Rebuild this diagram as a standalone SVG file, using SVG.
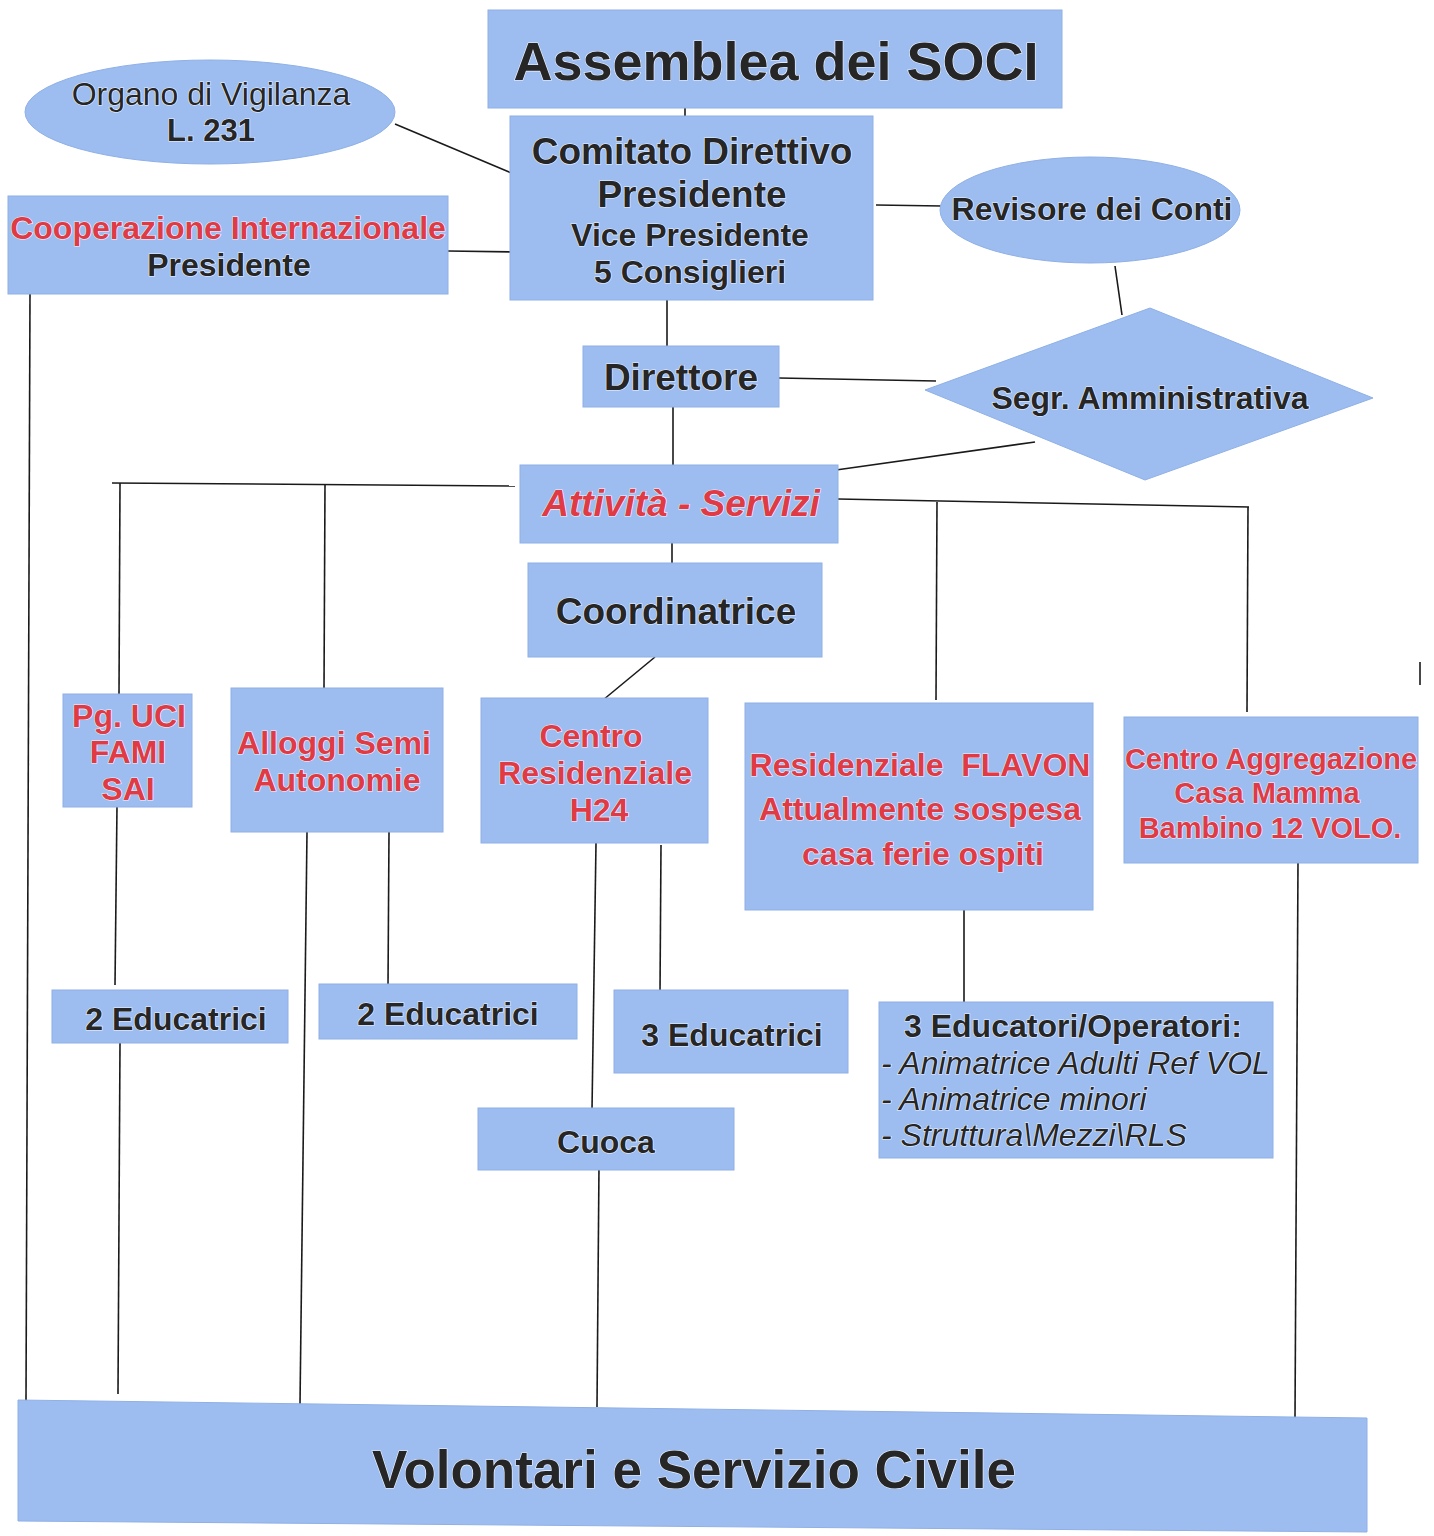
<svg xmlns="http://www.w3.org/2000/svg" width="1434" height="1536" viewBox="0 0 1434 1536">
<style>
.box{fill:#9dbdf0;stroke:#8fb0e6;stroke-width:1}
.t{font-family:"Liberation Sans",Arial,sans-serif;font-weight:bold;fill:#262626;text-anchor:middle;stroke:#eef4ff;stroke-width:1.2;paint-order:stroke}
.s{text-anchor:start}
.r{fill:#e03a45}
.n{font-weight:normal}
.i{font-style:italic}
.c line{stroke:#1a1a1a;stroke-width:1.6}
</style>
<rect width="1434" height="1536" fill="#ffffff"/>
<g class="c" id="connectors">
<line x1="685" y1="104" x2="685" y2="118"/>
<line x1="395" y1="124" x2="516" y2="175"/>
<line x1="448" y1="251" x2="516" y2="252"/>
<line x1="876" y1="205" x2="942" y2="206"/>
<line x1="1115" y1="266" x2="1122" y2="315"/>
<line x1="667" y1="298" x2="667" y2="347"/>
<line x1="779" y1="378" x2="936" y2="381"/>
<line x1="673" y1="405" x2="673" y2="467"/>
<line x1="836" y1="470" x2="1035" y2="442"/>
<line x1="112" y1="483" x2="515" y2="486"/>
<line x1="120" y1="483" x2="119" y2="696"/>
<line x1="325" y1="484" x2="324" y2="690"/>
<line x1="838" y1="499" x2="1249" y2="507"/>
<line x1="937" y1="502" x2="936" y2="700"/>
<line x1="1248" y1="507" x2="1247" y2="712"/>
<line x1="672" y1="535" x2="672" y2="565"/>
<line x1="655" y1="657" x2="603" y2="700"/>
<line x1="30" y1="293" x2="26" y2="1402"/>
<line x1="117" y1="806" x2="115" y2="985"/>
<line x1="120" y1="1043" x2="118" y2="1394"/>
<line x1="307" y1="832" x2="300" y2="1404"/>
<line x1="389" y1="832" x2="388" y2="986"/>
<line x1="596" y1="843" x2="592" y2="1110"/>
<line x1="661" y1="845" x2="660" y2="992"/>
<line x1="599" y1="1165" x2="597" y2="1407"/>
<line x1="964" y1="908" x2="964" y2="1004"/>
<line x1="1298" y1="862" x2="1295" y2="1419"/>
<line x1="1420" y1="662" x2="1420" y2="685"/>
</g>
<g id="assemblea">
<rect class="box" x="488" y="10" width="574" height="98"/>
<text class="t" x="776" y="80" font-size="54">Assemblea dei SOCI</text>
</g>
<g id="organo">
<ellipse class="box" cx="210" cy="112" rx="185" ry="52"/>
<text class="t n" x="211" y="105" font-size="32">Organo di Vigilanza</text>
<text class="t" x="211" y="141" font-size="31">L. 231</text>
</g>
<g id="comitato">
<rect class="box" x="510" y="116" width="363" height="184"/>
<text class="t" x="692" y="164" font-size="37">Comitato Direttivo</text>
<text class="t" x="692" y="207" font-size="37">Presidente</text>
<text class="t" x="690" y="246" font-size="32">Vice Presidente</text>
<text class="t" x="690" y="283" font-size="32">5 Consiglieri</text>
</g>
<g id="cooperazione">
<rect class="box" x="8" y="196" width="440" height="98"/>
<text class="t r" x="228" y="239" font-size="32">Cooperazione Internazionale</text>
<text class="t" x="229" y="276" font-size="32">Presidente</text>
</g>
<g id="revisore">
<ellipse class="box" cx="1090" cy="210" rx="150" ry="53"/>
<text class="t" x="1092" y="220" font-size="32">Revisore dei Conti</text>
</g>
<g id="direttore">
<rect class="box" x="583" y="346" width="196" height="61"/>
<text class="t" x="681" y="390" font-size="37">Direttore</text>
</g>
<g id="segr">
<polygon class="box" points="925,390 1150,308 1373,398 1145,480"/>
<text class="t" x="1150" y="409" font-size="32">Segr. Amministrativa</text>
</g>
<g id="attivita">
<rect class="box" x="520" y="465" width="318" height="78"/>
<text class="t r i" x="681" y="516" font-size="37">Attività - Servizi</text>
</g>
<g id="coordinatrice">
<rect class="box" x="528" y="563" width="294" height="94"/>
<text class="t" x="676" y="624" font-size="37">Coordinatrice</text>
</g>
<g id="pg">
<rect class="box" x="63" y="694" width="129" height="113"/>
<text class="t r" x="129" y="727" font-size="32">Pg. UCI</text>
<text class="t r" x="128" y="763" font-size="32">FAMI</text>
<text class="t r" x="128" y="800" font-size="32">SAI</text>
</g>
<g id="alloggi">
<rect class="box" x="231" y="688" width="212" height="144"/>
<text class="t r" x="334" y="754" font-size="32">Alloggi Semi</text>
<text class="t r" x="337" y="791" font-size="32">Autonomie</text>
</g>
<g id="centro-res">
<rect class="box" x="481" y="698" width="227" height="145"/>
<text class="t r" x="591" y="747" font-size="32">Centro</text>
<text class="t r" x="595" y="784" font-size="32">Residenziale</text>
<text class="t r" x="599" y="821" font-size="32">H24</text>
</g>
<g id="flavon">
<rect class="box" x="745" y="703" width="348" height="207"/>
<text class="t r" x="920" y="776" font-size="32" xml:space="preserve">Residenziale  FLAVON</text>
<text class="t r" x="920" y="820" font-size="32">Attualmente sospesa</text>
<text class="t r" x="923" y="865" font-size="32">casa ferie ospiti</text>
</g>
<g id="centro-aggr">
<rect class="box" x="1124" y="717" width="294" height="146"/>
<text class="t r" x="1271" y="769" font-size="29">Centro Aggregazione</text>
<text class="t r" x="1267" y="803" font-size="29">Casa Mamma</text>
<text class="t r" x="1270" y="838" font-size="29">Bambino 12 VOLO.</text>
</g>
<g id="educ1">
<rect class="box" x="52" y="990" width="236" height="53"/>
<text class="t" x="176" y="1030" font-size="32">2 Educatrici</text>
</g>
<g id="educ2">
<rect class="box" x="319" y="984" width="258" height="55"/>
<text class="t" x="448" y="1025" font-size="32">2 Educatrici</text>
</g>
<g id="educ3">
<rect class="box" x="614" y="990" width="234" height="83"/>
<text class="t" x="732" y="1046" font-size="32">3 Educatrici</text>
</g>
<g id="cuoca">
<rect class="box" x="478" y="1108" width="256" height="62"/>
<text class="t" x="606" y="1153" font-size="32">Cuoca</text>
</g>
<g id="educatori">
<rect class="box" x="879" y="1002" width="394" height="156"/>
<text class="t s" x="904" y="1037" font-size="32">3 Educatori/Operatori:</text>
<text class="t s n i" x="881" y="1074" font-size="32">- Animatrice Adulti Ref VOL</text>
<text class="t s n i" x="881" y="1110" font-size="32">- Animatrice minori</text>
<text class="t s n i" x="881" y="1146" font-size="32">- Struttura\Mezzi\RLS</text>
</g>
<g id="volontari">
<polygon class="box" points="18,1400 1367,1418 1367,1532 18,1521"/>
<text class="t" x="694" y="1488" font-size="53">Volontari e Servizio Civile</text>
</g>
</svg>
